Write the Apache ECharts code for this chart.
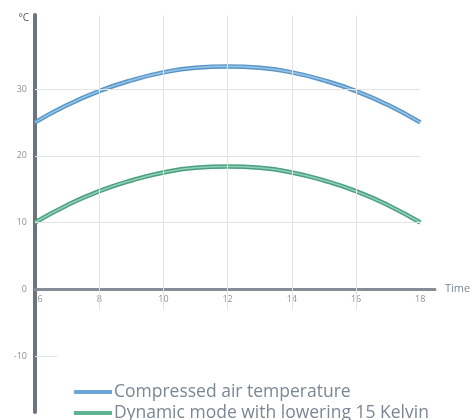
<!DOCTYPE html>
<html><head><meta charset="utf-8">
<script src="https://cdn.jsdelivr.net/npm/echarts@6/dist/echarts.min.js"></script>
<style>html,body{margin:0;padding:0;background:#fff}#c{width:474px;height:420px}</style>
</head><body><div id="c"></div>
<script>
const hours = [6,7,8,9,10,11,12,13,14,15,16,17,18];
const compressedAir = [25.0,27.6,29.7,31.3,32.5,33.2,33.4,33.2,32.5,31.3,29.7,27.6,25.0];
const dynamicMode = [10.0,12.6,14.7,16.3,17.5,18.2,18.4,18.2,17.5,16.3,14.7,12.6,10.0];
const xTickLabels = [6,8,10,12,14,16,18];
const yTickLabels = [-10,0,10,20,30];
const hGrid = [10,20,30];
const vGrid = [8,10,12,14,16];
const seriesNames = ['Compressed air temperature','Dynamic mode with lowering 15 Kelvin'];

const toPairs = arr => hours.map((h,i)=>[h,arr[i]]);
const gridLines = [];
hGrid.forEach(v=>gridLines.push([{coord:[6,v]},{coord:[18,v]}]));
vGrid.forEach(v=>gridLines.push([{coord:[v,41]},{coord:[v,-3]}]));
gridLines.push([{coord:[6,-10]},{coord:[6.7,-10]}]);

const yMin = -18.4, yMax = 41.1, gridTop = 15, gridBottom = 8, H = 420;
const plotH = H - gridTop - gridBottom;
const zeroOffset = -(plotH * (0 - yMin) / (yMax - yMin));

const legendText = {color:'#7b8794',fontSize:17.5,fontFamily:'Open Sans',padding:[0,0,0,-3]};
const chart = echarts.init(document.getElementById('c'));
chart.setOption({
  animation:false,
  grid:{left:35,right:39,top:gridTop,bottom:gridBottom},
  xAxis:{type:'value',min:6,max:18.46,position:'bottom',offset:zeroOffset,
    name:'Time',nameGap:10,nameTextStyle:{color:'#7a8591',fontSize:11,fontFamily:'Open Sans'},
    axisLine:{onZero:false,lineStyle:{color:'#858d98',width:3}},
    axisTick:{show:false},splitLine:{show:false},
    axisLabel:{customValues:xTickLabels,color:'#8a9099',fontSize:9,margin:6,fontFamily:'Open Sans',
      formatter:v=>v===6?'{a|6}':String(v),rich:{a:{padding:[0,0,0,10],color:'#8a9099',fontSize:9,fontFamily:'Open Sans'}}}
  },
  yAxis:{type:'value',min:yMin,max:yMax,
    name:'°C',nameLocation:'end',nameGap:-8,nameTextStyle:{color:'#555',fontSize:10,fontFamily:'Open Sans',align:'right',padding:[0,6,0,0]},
    axisLine:{lineStyle:{color:'#6c737e',width:4}},
    axisTick:{show:false},splitLine:{show:false},
    axisLabel:{customValues:yTickLabels,color:'#8a9099',fontSize:9,margin:8,fontFamily:'Open Sans'}
  },
  legend:[
    {left:69,top:378,itemWidth:38,itemHeight:4,icon:'rect',data:[seriesNames[0]],textStyle:legendText},
    {left:69,top:399,itemWidth:38,itemHeight:4,icon:'rect',data:[seriesNames[1]],textStyle:legendText}
  ],
  series:[
    {type:'line',name:'grid',data:[],silent:true,
      markLine:{silent:true,symbol:'none',label:{show:false},lineStyle:{color:'#e4e4e4',width:1,type:'solid'},data:gridLines}},
    {type:'line',name:seriesNames[0],data:toPairs(compressedAir),smooth:0.5,showSymbol:false,
      lineStyle:{color:'#5b95c4',width:4.5},itemStyle:{color:'#6aa6d8'}},
    {type:'line',name:'c-hi',data:toPairs(compressedAir),smooth:0.5,showSymbol:false,
      lineStyle:{color:'#92c4ea',width:1.6}},
    {type:'line',name:seriesNames[1],data:toPairs(dynamicMode),smooth:0.5,showSymbol:false,
      lineStyle:{color:'#4b9f80',width:4.5},itemStyle:{color:'#5fb393'}},
    {type:'line',name:'d-hi',data:toPairs(dynamicMode),smooth:0.5,showSymbol:false,
      lineStyle:{color:'#8fd0b5',width:1.6}}
  ]
});
</script></body></html>
